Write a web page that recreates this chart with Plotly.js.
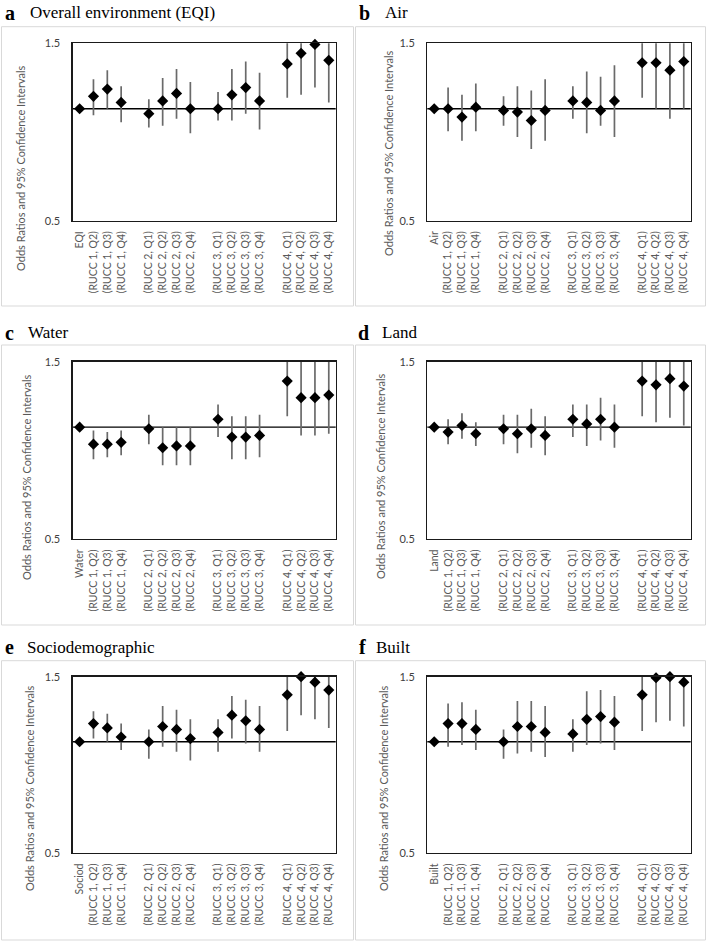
<!DOCTYPE html>
<html>
<head>
<meta charset="utf-8">
<script src="https://cdn.plot.ly/plotly-3.0.1.min.js"></script>
<style>html,body{margin:0;padding:0;background:#fff}#chart{width:709px;height:942px}</style>
</head>
<body>
<div id="chart"></div>
<script>
// ---------------- DATA ----------------
const panelLetters = ['a', 'b', 'c', 'd', 'e', 'f'];
const panelNames = ['Overall environment (EQI)', 'Air', 'Water', 'Land', 'Sociodemographic', 'Built'];
const refLabels = ['EQI', 'Air', 'Water', 'Land', 'Sociod', 'Built'];
const rowLabels = ['(RUCC 1, Q2)', '(RUCC 1, Q3)', '(RUCC 1, Q4)',
  '(RUCC 2, Q1)', '(RUCC 2, Q2)', '(RUCC 2, Q3)', '(RUCC 2, Q4)',
  '(RUCC 3, Q1)', '(RUCC 3, Q2)', '(RUCC 3, Q3)', '(RUCC 3, Q4)',
  '(RUCC 4, Q1)', '(RUCC 4, Q2)', '(RUCC 4, Q3)', '(RUCC 4, Q4)'];
const gapLabels = ['gap1', 'gap2', 'gap3'];
const yTickVals = [0.5, 1.5];
const yTickText = ['0.5', '1.5'];
const yTitle = 'Odds Ratios and 95% Confidence Intervals';
const refOR = 1;

// odds ratios (reference first, then the 15 RUCC/quartile rows)
const orEQI    = [1.00, 1.08, 1.13, 1.04, 0.97, 1.05, 1.10, 1.00, 1.00, 1.09, 1.14, 1.05, 1.32, 1.41, 1.49, 1.35];
const loEQI    = [1.00, 0.96, 1.00, 0.92, 0.89, 0.90, 0.94, 0.86, 0.93, 0.93, 0.97, 0.88, 1.07, 1.09, 1.14, 1.04];
const hiEQI    = [1.00, 1.20, 1.27, 1.15, 1.06, 1.21, 1.28, 1.18, 1.11, 1.28, 1.34, 1.25, 1.63, 1.83, 1.95, 1.77];

const orAir    = [1.00, 1.00, 0.95, 1.01, 0.99, 0.98, 0.93, 0.99, 1.05, 1.04, 0.99, 1.05, 1.33, 1.33, 1.27, 1.34];
const loAir    = [1.00, 0.87, 0.82, 0.87, 0.90, 0.84, 0.78, 0.82, 0.94, 0.86, 0.90, 0.84, 1.07, 1.00, 0.94, 1.00];
const hiAir    = [1.00, 1.14, 1.09, 1.17, 1.08, 1.15, 1.12, 1.20, 1.15, 1.26, 1.22, 1.31, 1.66, 1.77, 1.72, 1.80];

const orWater  = [1.00, 0.90, 0.90, 0.91, 0.99, 0.88, 0.89, 0.89, 1.05, 0.94, 0.94, 0.95, 1.33, 1.20, 1.20, 1.22];
const loWater  = [1.00, 0.82, 0.83, 0.84, 0.90, 0.79, 0.79, 0.79, 0.94, 0.82, 0.82, 0.83, 1.07, 0.95, 0.95, 0.96];
const hiWater  = [1.00, 0.98, 0.97, 0.98, 1.08, 1.00, 1.00, 1.00, 1.15, 1.07, 1.07, 1.08, 1.66, 1.51, 1.51, 1.55];

const orLand   = [1.00, 0.97, 1.01, 0.96, 0.99, 0.96, 0.99, 0.95, 1.05, 1.02, 1.05, 1.00, 1.33, 1.30, 1.35, 1.29];
const loLand   = [1.00, 0.90, 0.93, 0.89, 0.90, 0.85, 0.88, 0.84, 0.94, 0.89, 0.92, 0.88, 1.07, 1.03, 1.06, 1.01];
const hiLand   = [1.00, 1.05, 1.09, 1.03, 1.08, 1.08, 1.12, 1.07, 1.15, 1.15, 1.20, 1.15, 1.66, 1.63, 1.71, 1.65];

const orSociod = [1.00, 1.12, 1.09, 1.03, 1.00, 1.10, 1.08, 1.02, 1.06, 1.18, 1.14, 1.08, 1.34, 1.50, 1.45, 1.38];
const loSociod = [1.00, 1.02, 1.00, 0.95, 0.90, 0.97, 0.94, 0.89, 0.94, 1.02, 0.99, 0.94, 1.07, 1.18, 1.15, 1.09];
const hiSociod = [1.00, 1.21, 1.19, 1.12, 1.08, 1.25, 1.22, 1.15, 1.15, 1.33, 1.30, 1.25, 1.68, 1.90, 1.84, 1.74];

const orBuilt  = [1.00, 1.12, 1.12, 1.08, 1.00, 1.10, 1.10, 1.06, 1.05, 1.15, 1.17, 1.13, 1.34, 1.49, 1.50, 1.45];
const loBuilt  = [1.00, 0.97, 0.98, 0.95, 0.90, 0.93, 0.94, 0.91, 0.94, 0.98, 0.99, 0.95, 1.07, 1.13, 1.14, 1.10];
const hiBuilt  = [1.00, 1.27, 1.28, 1.22, 1.08, 1.29, 1.29, 1.25, 1.15, 1.37, 1.38, 1.33, 1.68, 1.96, 1.97, 1.90];

const orSets = [orEQI, orAir, orWater, orLand, orSociod, orBuilt];
const loSets = [loEQI, loAir, loWater, loLand, loSociod, loBuilt];
const hiSets = [hiEQI, hiAir, hiWater, hiLand, hiSociod, hiBuilt];

// ---------------- LAYOUT GEOMETRY (pixels) ----------------
const W = 709, H = 942;
const colBox = [[1.5, 353.5], [355.5, 705.5]];
const colPlot = [[72.7, 335.7], [427.3, 690.7]];
const rowBox = [[26.7, 306], [345, 625], [660.7, 940]];
const rowPlot = [[43.3, 220.7], [361.7, 539], [676.7, 853]];
const rowTitleY = [12.7, 332.7, 647.3];
const letterX = [3, 357, 3, 356, 3, 357];
const nameX = [28, 383, 26, 380, 25, 374.5];
const yTitleX = [21, 389, 26, 380, 29, 383];
const yTitleY = [168, 153, 477, 476, 788, 788];

const px = v => v / W;
const py = v => 1 - v / H;

const traces = [];
const layout = {
  width: W, height: H,
  margin: {l: 0, r: 0, t: 0, b: 0},
  paper_bgcolor: '#ffffff',
  plot_bgcolor: '#ffffff',
  showlegend: false,
  shapes: [],
  annotations: []
};

for (let p = 0; p < 6; p++) {
  const col = p % 2, row = Math.floor(p / 2);
  const xa = p === 0 ? 'x' : 'x' + (p + 1);
  const ya = p === 0 ? 'y' : 'y' + (p + 1);
  const xKey = p === 0 ? 'xaxis' : 'xaxis' + (p + 1);
  const yKey = p === 0 ? 'yaxis' : 'yaxis' + (p + 1);

  const cats = [refLabels[p]].concat(rowLabels);
  const order = [refLabels[p]].concat(rowLabels.slice(0, 3), [gapLabels[0]],
    rowLabels.slice(3, 7), [gapLabels[1]], rowLabels.slice(7, 11), [gapLabels[2]], rowLabels.slice(11, 15));

  const orv = orSets[p], lov = loSets[p], hiv = hiSets[p];
  const plus = orv.map((v, i) => hiv[i] - v);
  const minus = orv.map((v, i) => v - lov[i]);

  // confidence interval bars (clipped to the plot area)
  traces.push({
    type: 'scatter', mode: 'markers', x: cats, y: orv, xaxis: xa, yaxis: ya,
    marker: {size: 1, color: 'rgba(0,0,0,0)'},
    error_y: {type: 'data', symmetric: false, array: plus, arrayminus: minus,
      color: '#6a6a6a', thickness: 1.7, width: 0},
    hoverinfo: 'skip', cliponaxis: true
  });
  // odds ratio markers
  traces.push({
    type: 'scatter', mode: 'markers', x: cats, y: orv, xaxis: xa, yaxis: ya,
    marker: {symbol: 'diamond', size: 8.6, color: '#000000', line: {width: 0}},
    cliponaxis: false
  });

  layout[xKey] = {
    domain: [px(colPlot[col][0]), px(colPlot[col][1])],
    anchor: ya,
    type: 'category',
    categoryorder: 'array',
    categoryarray: order,
    range: [-0.5, order.length - 0.5],
    tickmode: 'array', tickvals: cats, ticktext: cats,
    tickangle: -90,
    ticks: 'outside', ticklen: 5, tickcolor: 'rgba(0,0,0,0)',
    tickfont: {family: 'Lato, sans-serif', size: 10.5, color: '#595959'},
    showgrid: false, zeroline: false,
    showline: true, mirror: true, linecolor: '#1a1a1a', linewidth: 1.3,
    fixedrange: true
  };
  layout[yKey] = {
    domain: [py(rowPlot[row][1]), py(rowPlot[row][0])],
    anchor: xa,
    type: 'log',
    range: [Math.log10(yTickVals[0]), Math.log10(yTickVals[1])],
    tickmode: 'array', tickvals: yTickVals, ticktext: yTickText,
    ticks: 'outside', ticklen: 9, tickcolor: 'rgba(0,0,0,0)',
    tickfont: {family: 'Lato, sans-serif', size: 11, color: '#404040'},
    showgrid: false, zeroline: false,
    showline: true, mirror: true, linecolor: '#1a1a1a', linewidth: 1.3,
    fixedrange: true
  };

  // reference line at OR = 1
  layout.shapes.push({
    type: 'line', xref: xa + ' domain', yref: ya,
    x0: 0, x1: 1, y0: refOR, y1: refOR,
    line: {color: '#000000', width: 1.4}, layer: 'below'
  });
  // light panel frame
  layout.shapes.push({
    type: 'rect', xref: 'paper', yref: 'paper',
    x0: px(colBox[col][0]), x1: px(colBox[col][1]),
    y0: py(rowBox[row][1]), y1: py(rowBox[row][0]),
    line: {color: '#d9d9d9', width: 1}, fillcolor: 'rgba(0,0,0,0)', layer: 'below'
  });
  // panel letter and title
  layout.annotations.push({
    xref: 'paper', yref: 'paper', x: px(letterX[p]), y: py(rowTitleY[row]),
    xanchor: 'left', yanchor: 'middle', showarrow: false,
    text: '<b>' + panelLetters[p] + '</b>',
    font: {family: 'Liberation Serif, Times New Roman, serif', size: 20, color: '#000000'}
  });
  layout.annotations.push({
    xref: 'paper', yref: 'paper', x: px(nameX[p]), y: py(rowTitleY[row]),
    xanchor: 'left', yanchor: 'middle', showarrow: false,
    text: panelNames[p],
    font: {family: 'Liberation Serif, Times New Roman, serif', size: 17, color: '#000000'}
  });
  // y-axis title
  layout.annotations.push({
    xref: 'paper', yref: 'paper', x: px(yTitleX[p]), y: py(yTitleY[p]),
    xanchor: 'center', yanchor: 'middle', showarrow: false, textangle: -90,
    text: yTitle,
    font: {family: 'Lato, sans-serif', size: 11, color: '#595959'}
  });
}

Plotly.newPlot('chart', traces, layout, {displayModeBar: false, staticPlot: true});
</script>
</body>
</html>
